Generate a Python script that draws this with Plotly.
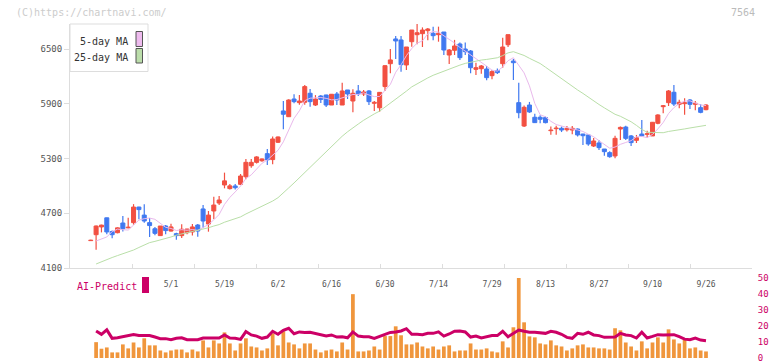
import plotly.graph_objects as go
import pandas as pd

# ---------------- data ----------------
opens = [4400, 4465, 4550, 4650, 4500, 4487, 4593, 4540, 4597, 4768,
         4680, 4597, 4530, 4455, 4560, 4505, 4476, 4455, 4487, 4495,
         4571, 4747, 4582, 4725, 4812, 5010, 4970, 4999, 5017, 5100,
         5221, 5258, 5275, 5353, 5288, 5478, 5821, 5758, 5952, 5912,
         5916, 6015, 5886, 5985, 5996, 5886, 6007, 5886, 6051, 5930,
         6040, 6007, 6040, 5905, 5856, 6088, 6339, 6610, 6599, 6325,
         6580, 6657, 6668, 6701, 6672, 6657, 6686, 6434, 6486, 6555,
         6500, 6478, 6277, 6284, 6281, 6208, 6263, 6339, 6547, 6368,
         5912, 5656, 5886, 5752, 5752, 5748, 5605, 5627, 5631, 5615,
         5612, 5623, 5568, 5558, 5437, 5470, 5404, 5364, 5328, 5623,
         5645, 5547, 5499, 5568, 5565, 5547, 5686, 5868, 5912, 6026,
         5894, 5901, 5941, 5894, 5857, 5835]
highs = [4410, 4565, 4575, 4650, 4510, 4545, 4670, 4650, 4800, 4770,
         4800, 4648, 4550, 4560, 4570, 4585, 4485, 4580, 4530, 4582,
         4582, 4790, 4725, 4880, 4890, 5145, 5020, 5020, 5130, 5295,
         5295, 5325, 5300, 5405, 5540, 5540, 5930, 5950, 6005, 5995,
         6106, 6062, 5995, 5995, 6000, 6004, 6030, 6130, 6051, 6059,
         6106, 6050, 6051, 5930, 6030, 6320, 6500, 6643, 6643, 6522,
         6708, 6774, 6737, 6730, 6745, 6745, 6686, 6500, 6600, 6570,
         6570, 6490, 6350, 6325, 6314, 6270, 6285, 6624, 6657, 6390,
         6131, 5880, 5920, 5790, 5775, 5760, 5650, 5660, 5650, 5655,
         5655, 5630, 5570, 5560, 5525, 5503, 5404, 5380, 5550, 5650,
         5660, 5558, 5558, 5722, 5605, 5700, 5785, 5886, 6051, 6106,
         5945, 5960, 5952, 5930, 5894, 5894]
lows = [4400, 4300, 4490, 4470, 4425, 4480, 4500, 4535, 4575, 4635,
        4597, 4440, 4460, 4455, 4470, 4500, 4410, 4430, 4470, 4455,
        4443, 4540, 4498, 4637, 4790, 4973, 4960, 4960, 5010, 5072,
        5200, 5245, 5265, 5230, 5237, 5470, 5620, 5758, 5905, 5890,
        5890, 5868, 5875, 5908, 5864, 5886, 5886, 5886, 5952, 5806,
        5985, 5985, 5886, 5820, 5813, 6040, 6234, 6391, 6252, 6270,
        6526, 6551, 6522, 6595, 6595, 6580, 6434, 6336, 6434, 6380,
        6434, 6234, 6215, 6230, 6157, 6168, 6225, 6295, 6522, 6160,
        5741, 5645, 5800, 5693, 5685, 5685, 5560, 5560, 5590, 5595,
        5565, 5540, 5448, 5440, 5426, 5393, 5331, 5309, 5302, 5503,
        5503, 5437, 5470, 5545, 5530, 5547, 5675, 5795, 5875, 5875,
        5850, 5780, 5842, 5830, 5795, 5828]
closes = [4405, 4560, 4570, 4495, 4465, 4540, 4530, 4548, 4768, 4740,
          4615, 4565, 4480, 4560, 4510, 4550, 4455, 4525, 4527, 4550,
          4505, 4615, 4680, 4790, 4845, 5055, 5000, 4980, 5108, 5258,
          5258, 5317, 5295, 5285, 5514, 5536, 5785, 5941, 5923, 5930,
          6088, 5923, 5952, 5948, 5886, 6004, 5941, 6040, 6007, 6015,
          6007, 6029, 5923, 5916, 6025, 6317, 6380, 6588, 6328, 6522,
          6708, 6678, 6708, 6719, 6646, 6672, 6489, 6489, 6533, 6405,
          6471, 6295, 6295, 6314, 6186, 6252, 6241, 6522, 6657, 6350,
          5802, 5861, 5810, 5693, 5730, 5693, 5612, 5634, 5612, 5630,
          5631, 5558, 5550, 5459, 5492, 5419, 5375, 5320, 5521, 5641,
          5521, 5474, 5528, 5547, 5572, 5697, 5777, 5879, 6040, 5897,
          5916, 5912, 5894, 5905, 5806, 5886]

# moving-average values before a full window exists
ma5_head = [4396, 4414, 4440]                      # candles 1..3
ma25_head = [4144, 4170, 4192, 4215, 4236, 4256, 4276, 4297, 4325, 4356,
             4378, 4392, 4406, 4421, 4440, 4460, 4473, 4484, 4496, 4511,
             4526, 4541, 4560]                     # candles 1..23

# lower panel (candles 1..115)
volume = [9.9, 5.8, 6.6, 3.5, 3.5, 8.5, 6.0, 9.7, 6.6, 12.3,
          7.9, 7.9, 4.7, 3.5, 4.7, 5.3, 5.3, 3.5, 5.3, 4.1,
          11.0, 6.6, 11.0, 9.1, 16.0, 9.1, 4.7, 9.1, 12.3, 7.2,
          6.6, 4.7, 6.0, 15.4, 7.9, 16.7, 9.7, 8.5, 6.0, 9.1,
          9.1, 5.3, 3.5, 4.7, 5.3, 4.1, 9.7, 5.3, 39.9, 4.1,
          4.1, 4.7, 7.2, 5.3, 13.7, 13.7, 19.8, 14.2, 8.5, 8.5,
          9.7, 7.2, 6.0, 7.2, 5.3, 7.2, 7.9, 4.1, 4.7, 4.7,
          9.1, 5.3, 5.3, 6.0, 4.1, 3.5, 10.4, 6.6, 19.2, 50.0,
          22.3, 13.5, 12.9, 9.1, 8.5, 11.0, 7.9, 7.2, 4.7, 6.0,
          7.9, 8.5, 6.6, 6.6, 6.0, 6.0, 5.3, 18.6, 17.3, 9.7,
          7.2, 4.7, 10.4, 6.0, 9.7, 12.9, 9.7, 17.9, 11.6, 9.1,
          11.6, 6.0, 6.6, 4.7, 4.1]
ai_predict = [16.9, 14.8, 17.6, 12.3, 12.6, 13.3, 13.7, 14.6, 14.0, 14.0,
              14.0, 13.1, 12.1, 12.1, 11.4, 12.3, 12.6, 11.4, 11.4, 11.4,
              12.5, 12.5, 12.5, 12.5, 14.4, 12.5, 12.3, 11.6, 16.5, 14.4,
              13.7, 12.3, 13.1, 16.7, 14.8, 17.3, 18.6, 15.2, 16.3, 15.9,
              16.1, 15.4, 14.8, 13.7, 14.4, 13.1, 13.3, 12.6, 16.3, 13.7,
              13.3, 13.3, 12.3, 13.5, 14.6, 16.0, 16.3, 16.9, 18.3, 14.8,
              14.8, 14.6, 15.4, 15.4, 16.3, 13.7, 15.0, 16.7, 16.9, 16.3,
              13.1, 13.7, 12.5, 13.3, 14.0, 14.0, 16.7, 13.3, 15.4, 17.5,
              16.7, 16.1, 16.1, 15.7, 15.4, 16.7, 16.1, 14.8, 12.9, 12.3,
              15.4, 14.8, 16.1, 14.4, 14.0, 12.9, 12.9, 13.1, 15.4, 14.4,
              14.0, 12.5, 16.1, 12.5, 13.5, 14.6, 14.4, 14.6, 14.6, 13.3,
              11.8, 11.4, 12.5, 11.2, 10.8]

tick_labels = ["5/1", "5/19", "6/2", "6/16", "6/30", "7/14", "7/29",
               "8/13", "8/27", "9/10", "9/26"]
tick_label_pos = [15, 25, 35, 45, 55, 65, 75, 85, 95, 105, 115]
price_ticks = [4100, 4700, 5300, 5900, 6500]
panel_ticks = [0, 10, 20, 30, 40, 50]

# ---------------- derived ----------------
n = len(closes)
idx = list(range(n))
cs = pd.Series(closes, dtype=float)
ma5 = [None] + ma5_head + list(cs.rolling(5).mean().iloc[4:])
ma25 = [None] + ma25_head + list(cs.rolling(25).mean().iloc[24:])
low_idx = list(range(1, n))

RED = "#f25042"
BLUE = "#4079f0"
W, H = 772, 361
FONT = "DejaVu Sans Mono"

def px(x):
    return x / W

def py(y):
    return 1 - y / H

up = [i for i in idx if closes[i] >= opens[i]]
dn = [i for i in idx if closes[i] < opens[i]]

fig = go.Figure()

def wick_trace(ids, color):
    xs, ys = [], []
    for i in ids:
        xs += [i, i, None]
        ys += [lows[i], highs[i], None]
    return go.Scatter(x=xs, y=ys, mode="lines", line=dict(color=color, width=1.2),
                      hoverinfo="skip", showlegend=False, xaxis="x", yaxis="y")

fig.add_trace(wick_trace(up, RED))
fig.add_trace(wick_trace(dn, BLUE))
for ids, color in ((up, RED), (dn, BLUE)):
    fig.add_trace(go.Bar(
        x=ids,
        y=[abs(closes[i] - opens[i]) for i in ids],
        base=[min(closes[i], opens[i]) for i in ids],
        width=0.75,
        marker=dict(color=color, line=dict(color=color, width=1)),
        showlegend=False, xaxis="x", yaxis="y"))

fig.add_trace(go.Scatter(x=idx, y=ma5, mode="lines", line=dict(color="#e9b9ec", width=1),
                         showlegend=False, xaxis="x", yaxis="y", connectgaps=False))
fig.add_trace(go.Scatter(x=idx, y=ma25, mode="lines", line=dict(color="#b9dfa8", width=1),
                         showlegend=False, xaxis="x", yaxis="y", connectgaps=False))
# carrier for the date-label axis
fig.add_trace(go.Scatter(x=tick_label_pos, y=[None] * len(tick_label_pos), mode="lines",
                         showlegend=False, xaxis="x3", yaxis="y", hoverinfo="skip"))

fig.add_trace(go.Bar(x=low_idx, y=volume, width=0.7, marker=dict(color="#f0963c", line=dict(width=0)),
                     showlegend=False, xaxis="x2", yaxis="y2"))
fig.add_trace(go.Scatter(x=low_idx, y=ai_predict, mode="lines",
                         line=dict(color="#cc0066", width=3),
                         showlegend=False, xaxis="x2", yaxis="y2"))

pitch = 5.35
x_left_idx = (70 - 90.75) / pitch
x_right_idx = (752 - 90.75) / pitch
xr = [x_left_idx, x_right_idx]
dom_x = [px(70), px(752)]

axfont = dict(family=FONT, size=9, color="#555")

fig.update_layout(
    template="none",
    width=W, height=H,
    margin=dict(l=0, r=0, t=0, b=0, autoexpand=False),
    paper_bgcolor="white", plot_bgcolor="white",
    barmode="overlay",
    showlegend=False,
    xaxis=dict(domain=dom_x, range=xr, anchor="y", showline=True, linecolor="#dddddd",
               linewidth=1, ticks="inside", ticklen=4, tickcolor="#dddddd",
               tickmode="linear", tick0=x_left_idx, dtick=62 / pitch,
               showticklabels=False, showgrid=False, zeroline=False, automargin=False),
    xaxis3=dict(overlaying="x", domain=dom_x, range=xr, anchor="y", side="bottom",
                tickmode="array", tickvals=tick_label_pos, ticktext=tick_labels,
                ticks="outside", ticklen=8, tickcolor="rgba(0,0,0,0)",
                tickfont=dict(family=FONT, size=8, color="#555"),
                showline=False, showgrid=False, zeroline=False, automargin=False),
    yaxis=dict(domain=[py(268), py(24)], range=[4100, 6774], anchor="x",
               showline=True, linecolor="#dddddd", linewidth=1,
               ticks="outside", ticklen=5, tickcolor="#dddddd",
               tickmode="array", tickvals=price_ticks, tickfont=axfont,
               showgrid=False, zeroline=False, automargin=False),
    xaxis2=dict(domain=dom_x, range=xr, anchor="y2", visible=False, automargin=False),
    yaxis2=dict(domain=[py(358), py(278)], range=[0, 50], anchor="x2", side="right",
                tickmode="array", tickvals=panel_ticks,
                tickfont=dict(family=FONT, size=9, color="#cc0066"),
                ticklabeloverflow="allow",
                ticks="outside", ticklen=3, tickcolor="rgba(0,0,0,0)",
                showline=False, showgrid=False, zeroline=False, automargin=False),
)

shapes = [
    dict(type="rect", xref="paper", yref="paper", x0=px(70), x1=px(148), y0=py(24), y1=py(71.5),
         line=dict(color="#dddddd", width=1), fillcolor="white", layer="above"),
    dict(type="rect", xref="paper", yref="paper", x0=px(136), x1=px(142.5), y0=py(31.5), y1=py(46.5),
         line=dict(color="#555", width=1), fillcolor="#eebbee", layer="above"),
    dict(type="rect", xref="paper", yref="paper", x0=px(136), x1=px(142.5), y0=py(48.5), y1=py(63),
         line=dict(color="#555", width=1), fillcolor="#bbddaa", layer="above"),
    dict(type="rect", xref="paper", yref="paper", x0=px(142), x1=px(149), y0=py(277), y1=py(293),
         line=dict(width=0), fillcolor="#cc0066", layer="above"),
]
annotations = [
    dict(text="(C)https://chartnavi.com/", x=px(14), y=py(12.5), xref="paper", yref="paper",
         xanchor="left", yanchor="middle", showarrow=False,
         font=dict(family=FONT, size=10, color="#cccccc")),
    dict(text="7564", x=px(757), y=py(12.5), xref="paper", yref="paper",
         xanchor="right", yanchor="middle", showarrow=False,
         font=dict(family=FONT, size=10, color="#bbbbbb")),
    dict(text="5-day MA", x=px(130), y=py(41), xref="paper", yref="paper",
         xanchor="right", yanchor="middle", showarrow=False,
         font=dict(family=FONT, size=10, color="#333")),
    dict(text="25-day MA", x=px(130), y=py(57), xref="paper", yref="paper",
         xanchor="right", yanchor="middle", showarrow=False,
         font=dict(family=FONT, size=10, color="#333")),
    dict(text="AI-Predict", x=px(75), y=py(286), xref="paper", yref="paper",
         xanchor="left", yanchor="middle", showarrow=False,
         font=dict(family=FONT, size=10, color="#cc0066")),
]
fig.update_layout(shapes=shapes, annotations=annotations)

fig.write_html("out.html",
               config={"displayModeBar": False},
               post_script="document.body.style.margin='0';document.body.style.overflow='hidden';")
